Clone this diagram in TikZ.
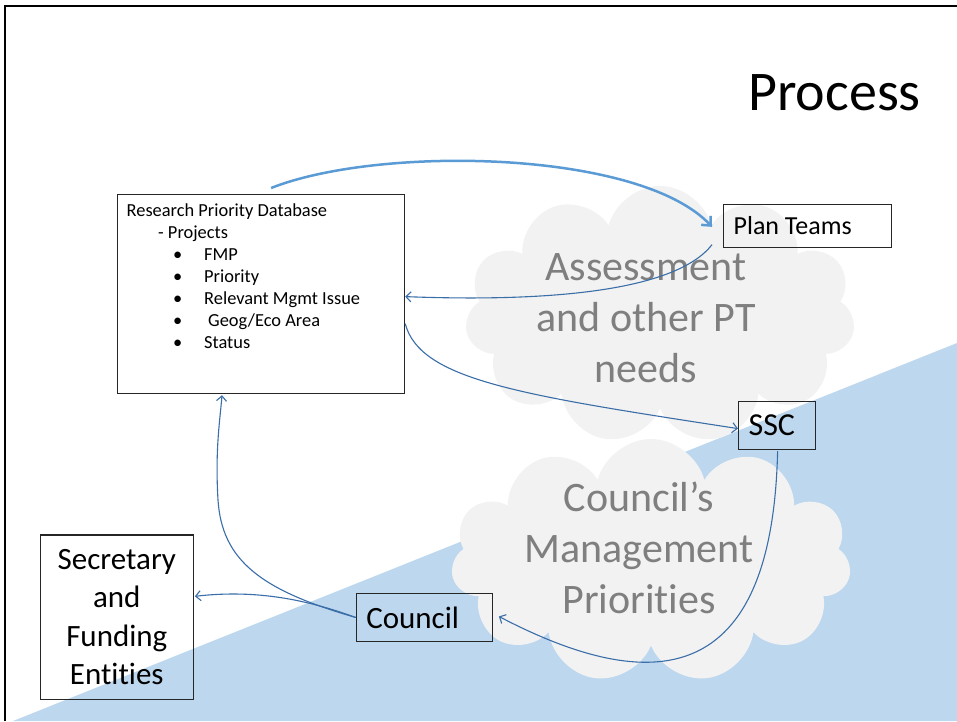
\documentclass[tikz,border=0pt]{standalone}
\usepackage{fontspec}
\setmainfont{Carlito}[Ligatures=CommonOff]
\usetikzlibrary{shapes.symbols,arrows.meta,calc}
\definecolor{tri}{HTML}{BDD7EE}
\definecolor{cloudfill}{HTML}{F2F2F2}
\definecolor{cloudtext}{HTML}{7F7F7F}
\definecolor{conn}{HTML}{3A6EA8}
\definecolor{connlight}{HTML}{5B9BD5}
\begin{document}
\begin{tikzpicture}[x=1pt,y=-1pt,
  box/.style={draw=black!85, line width=1.2pt, inner sep=0pt, anchor=north west},
  cloudshape/.style={cloud, cloud puffs=11, aspect=1.5, fill=cloudfill, draw=none, inner sep=0pt},
  cloudlabel/.style={text=cloudtext, align=center, inner sep=0pt, font=\fontsize{42pt}{51pt}\selectfont},
  dbline/.style={anchor=base west, inner sep=0pt, font=\fontsize{18.4pt}{22pt}\selectfont},
  thinconn/.style={draw=conn, line width=1.1pt, -{Straight Barb[length=5pt,width=10pt]}},
  thickconn/.style={draw=connlight, line width=2.5pt, -{Straight Barb[length=7pt,width=13pt]}}
]
\useasboundingbox (0,0) rectangle (957,721);
\fill[white] (0,0) rectangle (957,721);
% background triangle
\fill[tri] (13,721) -- (957,343) -- (957,721) -- cycle;
% clouds
\node[cloudshape, minimum width=390pt, minimum height=258pt] (c1) at (660,315) {};
\node[cloudshape, minimum width=400pt, minimum height=244pt] (c2) at (651,561) {};
\node[cloudlabel] (c1t) at (646,318) {Assessment\\and other PT\\needs};
\node[cloudlabel] (c2t) at (639,548) {Council’s\\Management\\Priorities};
% frame
\draw[line width=2pt] (5,721) -- (5,6) -- (957,6);
% title
\node[anchor=base east, inner sep=0pt, font=\fontsize{56pt}{60pt}\selectfont] (title) at (921,110) {Process};
% database box
\node[box, minimum width=287pt, minimum height=199pt] (db) at (117,194) {};
\node[dbline] (l1) at (126.5,216.7) {Research Priority Database};
\node[dbline] (l2) at (158,238.7) {- Projects};
\node[dbline] (b1) at (173,260.7) {•};
\node[dbline] (l3) at (204,260.7) {FMP};
\node[dbline] (b2) at (173,282.7) {•};
\node[dbline] (l4) at (204,282.7) {Priority};
\node[dbline] (b3) at (173,304.7) {•};
\node[dbline] (l5) at (204,304.7) {Relevant Mgmt Issue};
\node[dbline] (b4) at (173,326.7) {•};
\node[dbline] (l6) at (208,326.7) {Geog/Eco Area};
\node[dbline] (b5) at (173,348.7) {•};
\node[dbline] (l7) at (204,348.7) {Status};
% other boxes
\node[box, minimum width=168pt, minimum height=42.5pt,
  font=\fontsize{26pt}{30pt}\selectfont] (pt) at (723,204) {\makebox[148pt][l]{Plan Teams}};
\node[box, minimum width=77pt, minimum height=48pt,
  font=\fontsize{32pt}{36pt}\selectfont] (ssc) at (738,401) {\makebox[57pt][l]{SSC}};
\node[box, minimum width=136pt, minimum height=48.3pt,
  font=\fontsize{31pt}{36pt}\selectfont] (council) at (355.7,592.7) {\makebox[116pt][l]{Council}};
\node[box, minimum width=153pt, minimum height=164.7pt, text width=153pt, align=center,
  font=\fontsize{31pt}{38.5pt}\selectfont] (sec) at (39.7,534.3) {Secretary\\and\\Funding\\Entities};
% connectors
\draw[thickconn] ($(db.north)+(10,-6)$) .. controls (380,145) and (640,150) .. ($(pt.west)+(-11,1)$);
\draw[thinconn] ($(pt.south west)+(-11,-3)$) .. controls (675,292) and (545,302) .. ($(db.east)+(0,2.5)$);
\draw[thinconn] ($(db.east)+(0,29.5)$) .. controls (420,380) and (520,395) .. ($(ssc.west)+(0,3)$);
\draw[thinconn] ($(ssc.south)+(0.5,1)$) .. controls (772,700) and (640,690) .. ($(council.east)+(6,-1)$);
\draw[thinconn] (council.west) .. controls (260,590) and (222,560) .. (218,500) .. controls (215,450) and (220,420) .. ($(db.south west)+(105,1)$);
\draw[thinconn] (council.west) .. controls (300,597) and (250,590) .. ($(sec.north east)+(1,62)$);
\end{tikzpicture}
\end{document}
